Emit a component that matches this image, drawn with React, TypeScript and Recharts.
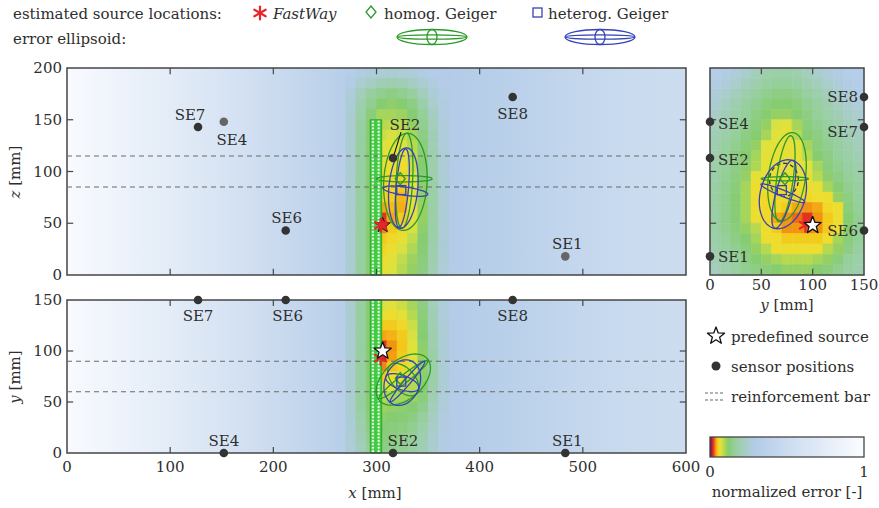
import React from "react";
import { ComposedChart, XAxis, YAxis, ReferenceArea, ReferenceLine, Scatter, Line } from "recharts";

const FONT = '"DejaVu Serif", "Liberation Serif", serif';
const INK = "#2e2e2e";
const GREEN = "#2a9a2a";
const BLUE = "#3543b8";
const RED = "#e8262a";
const FRAME = "#454545";

// sensor coordinates [mm]
const sensorNames = ["SE1", "SE2", "SE4", "SE6", "SE7", "SE8"];
const sensorX = [483, 316, 152, 212, 127, 432];
const sensorY = [0, 0, 0, 150, 150, 150];
const sensorZ = [18, 113, 148, 43, 143, 172];

// source locations [x, y, z] in mm
const predefinedSource = [306, 100, 48];
const fastWaySource = [304, 93, 48];
const homogGeigerSource = [323, 73, 93];
const heterogGeigerSource = [324, 70, 82];

// reinforcement bar
const rebarX = [294, 305];
const rebarLinesZ = [85, 115];
const rebarLinesY = [60, 90];

const xTicks = [0, 100, 200, 300, 400, 500, 600];
const zTicks = [0, 50, 100, 150, 200];
const yTicks = [0, 50, 100, 150];
const yzTicksH = [0, 50, 100, 150];

// normalized error along x, far from the bar
const bgX = [0, 50, 100, 150, 200, 250, 280, 300, 330, 380, 400, 450, 500, 550, 600];
const bgErr = [0.97, 0.86, 0.74, 0.62, 0.5, 0.38, 0.31, 0.28, 0.28, 0.3, 0.32, 0.38, 0.44, 0.49, 0.52];

// error map near the bar, 10 mm cells (left edges / lower edges)
const hotCols = [270, 280, 290, 300, 310, 320, 330, 340, 350, 360];
const xzRows = [190, 180, 170, 160, 150, 140, 130, 120, 110, 100, 90, 80, 70, 60, 50, 40, 30, 20, 10, 0];
const xzErr = [
  [0.31, 0.29, 0.27, 0.26, 0.25, 0.26, 0.27, 0.29, 0.3, 0.3],
  [0.29, 0.25, 0.22, 0.2, 0.19, 0.2, 0.22, 0.25, 0.28, 0.3],
  [0.27, 0.21, 0.17, 0.15, 0.14, 0.15, 0.17, 0.21, 0.26, 0.29],
  [0.26, 0.19, 0.15, 0.12, 0.115, 0.12, 0.14, 0.18, 0.24, 0.28],
  [0.25, 0.18, 0.13, 0.1, 0.1, 0.105, 0.12, 0.16, 0.22, 0.28],
  [0.25, 0.17, 0.12, 0.09, 0.088, 0.09, 0.11, 0.15, 0.21, 0.27],
  [0.25, 0.17, 0.12, 0.08, 0.075, 0.08, 0.1, 0.14, 0.2, 0.27],
  [0.25, 0.17, 0.12, 0.072, 0.068, 0.07, 0.09, 0.13, 0.2, 0.27],
  [0.25, 0.17, 0.12, 0.068, 0.064, 0.064, 0.085, 0.125, 0.19, 0.26],
  [0.25, 0.17, 0.12, 0.064, 0.06, 0.058, 0.08, 0.12, 0.19, 0.26],
  [0.25, 0.17, 0.12, 0.062, 0.057, 0.055, 0.075, 0.12, 0.19, 0.26],
  [0.25, 0.17, 0.12, 0.058, 0.055, 0.05, 0.07, 0.115, 0.18, 0.26],
  [0.25, 0.17, 0.12, 0.055, 0.051, 0.044, 0.068, 0.11, 0.18, 0.26],
  [0.25, 0.17, 0.12, 0.04, 0.045, 0.042, 0.065, 0.11, 0.18, 0.26],
  [0.25, 0.17, 0.12, 0.02, 0.04, 0.05, 0.068, 0.11, 0.18, 0.26],
  [0.25, 0.17, 0.12, 0.034, 0.05, 0.056, 0.075, 0.115, 0.18, 0.26],
  [0.25, 0.17, 0.12, 0.05, 0.056, 0.065, 0.085, 0.12, 0.18, 0.26],
  [0.25, 0.17, 0.12, 0.055, 0.062, 0.075, 0.095, 0.125, 0.19, 0.26],
  [0.25, 0.17, 0.12, 0.058, 0.068, 0.085, 0.105, 0.13, 0.19, 0.26],
  [0.25, 0.17, 0.12, 0.06, 0.072, 0.09, 0.11, 0.135, 0.2, 0.27],
];
const xyRows = [140, 130, 120, 110, 100, 90, 80, 70, 60, 50, 40, 30, 20, 10, 0];
const xyErr = [
  [0.25, 0.17, 0.12, 0.075, 0.07, 0.08, 0.1, 0.14, 0.21, 0.27],
  [0.25, 0.17, 0.12, 0.064, 0.06, 0.066, 0.09, 0.13, 0.2, 0.27],
  [0.25, 0.17, 0.12, 0.05, 0.05, 0.056, 0.08, 0.125, 0.2, 0.26],
  [0.25, 0.17, 0.12, 0.04, 0.043, 0.05, 0.075, 0.12, 0.19, 0.26],
  [0.25, 0.17, 0.12, 0.02, 0.036, 0.048, 0.07, 0.115, 0.19, 0.26],
  [0.25, 0.17, 0.12, 0.015, 0.038, 0.05, 0.07, 0.11, 0.18, 0.26],
  [0.25, 0.17, 0.12, 0.034, 0.048, 0.055, 0.075, 0.11, 0.18, 0.26],
  [0.25, 0.17, 0.12, 0.05, 0.058, 0.065, 0.08, 0.115, 0.18, 0.26],
  [0.25, 0.17, 0.12, 0.07, 0.075, 0.08, 0.09, 0.12, 0.19, 0.26],
  [0.25, 0.17, 0.12, 0.09, 0.095, 0.1, 0.105, 0.13, 0.2, 0.27],
  [0.25, 0.17, 0.12, 0.105, 0.11, 0.115, 0.12, 0.145, 0.21, 0.27],
  [0.25, 0.18, 0.13, 0.115, 0.12, 0.125, 0.135, 0.165, 0.22, 0.28],
  [0.26, 0.19, 0.14, 0.125, 0.13, 0.135, 0.15, 0.18, 0.23, 0.28],
  [0.26, 0.2, 0.15, 0.13, 0.135, 0.145, 0.16, 0.19, 0.24, 0.29],
  [0.27, 0.21, 0.16, 0.14, 0.145, 0.155, 0.17, 0.2, 0.25, 0.29],
];
const yzCols = [0, 10, 20, 30, 40, 50, 60, 70, 80, 90, 100, 110, 120, 130, 140];
const yzRows = [190, 180, 170, 160, 150, 140, 130, 120, 110, 100, 90, 80, 70, 60, 50, 40, 30, 20, 10, 0];
const yzErr = [
  [0.31, 0.29, 0.27, 0.24, 0.21, 0.19, 0.18, 0.18, 0.19, 0.21, 0.24, 0.27, 0.29, 0.31, 0.32],
  [0.29, 0.27, 0.24, 0.21, 0.19, 0.17, 0.16, 0.16, 0.17, 0.19, 0.21, 0.24, 0.27, 0.29, 0.31],
  [0.27, 0.24, 0.21, 0.19, 0.17, 0.15, 0.14, 0.14, 0.15, 0.17, 0.19, 0.21, 0.24, 0.27, 0.29],
  [0.25, 0.22, 0.19, 0.17, 0.15, 0.13, 0.12, 0.12, 0.13, 0.15, 0.17, 0.19, 0.22, 0.25, 0.27],
  [0.23, 0.2, 0.18, 0.16, 0.14, 0.12, 0.11, 0.11, 0.12, 0.14, 0.16, 0.18, 0.2, 0.23, 0.25],
  [0.21, 0.19, 0.17, 0.15, 0.13, 0.11, 0.075, 0.07, 0.1, 0.13, 0.15, 0.17, 0.19, 0.21, 0.23],
  [0.2, 0.18, 0.16, 0.14, 0.12, 0.1, 0.07, 0.066, 0.09, 0.12, 0.14, 0.16, 0.18, 0.2, 0.22],
  [0.19, 0.17, 0.15, 0.13, 0.11, 0.07, 0.066, 0.066, 0.07, 0.1, 0.13, 0.15, 0.17, 0.19, 0.21],
  [0.19, 0.16, 0.14, 0.12, 0.1, 0.066, 0.066, 0.066, 0.066, 0.09, 0.12, 0.14, 0.16, 0.18, 0.2],
  [0.18, 0.16, 0.14, 0.115, 0.095, 0.066, 0.066, 0.066, 0.066, 0.07, 0.1, 0.13, 0.15, 0.17, 0.19],
  [0.18, 0.155, 0.135, 0.11, 0.066, 0.066, 0.066, 0.066, 0.066, 0.066, 0.09, 0.115, 0.14, 0.16, 0.18],
  [0.175, 0.15, 0.13, 0.1, 0.06, 0.06, 0.06, 0.06, 0.06, 0.06, 0.066, 0.1, 0.125, 0.15, 0.17],
  [0.175, 0.15, 0.125, 0.1, 0.06, 0.056, 0.056, 0.056, 0.056, 0.056, 0.06, 0.06, 0.11, 0.14, 0.165],
  [0.175, 0.15, 0.125, 0.1, 0.06, 0.056, 0.056, 0.05, 0.04, 0.036, 0.04, 0.056, 0.06, 0.13, 0.16],
  [0.175, 0.15, 0.125, 0.1, 0.06, 0.056, 0.04, 0.036, 0.03, 0.02, 0.036, 0.05, 0.06, 0.12, 0.155],
  [0.175, 0.15, 0.13, 0.11, 0.09, 0.06, 0.05, 0.036, 0.036, 0.034, 0.036, 0.05, 0.06, 0.12, 0.155],
  [0.18, 0.16, 0.14, 0.12, 0.1, 0.06, 0.058, 0.05, 0.05, 0.05, 0.05, 0.058, 0.1, 0.13, 0.16],
  [0.19, 0.17, 0.15, 0.13, 0.11, 0.09, 0.06, 0.06, 0.06, 0.06, 0.06, 0.09, 0.11, 0.14, 0.17],
  [0.2, 0.18, 0.16, 0.14, 0.12, 0.11, 0.1, 0.09, 0.09, 0.09, 0.1, 0.11, 0.13, 0.16, 0.18],
  [0.21, 0.19, 0.17, 0.15, 0.14, 0.13, 0.12, 0.11, 0.11, 0.11, 0.12, 0.13, 0.15, 0.17, 0.19],
];

// error ellipsoid projections: [centre h, centre v, semi-axis a, semi-axis b, rotation deg]
const xzGreen = [[328, 90, 21, 47, -3], [327, 91, 8, 46, -3], [327, 93, 27, 3, 0]];
const xzBlue = [[326, 84, 14, 39, -5], [325, 84, 6, 38, -5], [328, 81, 22, 4, -8]];
const xyGreen = [[326, 72, 31, 19, 42], [326, 72, 30, 4, 38], [326, 72, 11, 19, 42]];
const xyBlue = [[325, 69, 23, 17, 70], [330, 70, 26, 3, 50], [325, 69, 7, 17, 70]];
const yzGreen = [[75, 95, 18, 43, -8], [73, 93, 8, 42, -8], [73, 93, 23, 2, 0]];
const yzBlue = [[71, 78, 22, 34, -15], [72, 78, 8, 34, -15], [71, 79, 23, 3, -22]];
const yzDashed = [[72, 92, 14, 16, 0]];

// colormap of the normalized error
const cmapV = [0, 0.012, 0.025, 0.037, 0.047, 0.058, 0.072, 0.092, 0.12, 0.165, 0.23, 0.3, 0.6, 1];
const cmapC = ["#3b0f8f", "#cc1430", "#ea4a1a", "#f39a10", "#f4c418", "#f0dc2c", "#dde23e", "#b2d852", "#86cc70", "#97cf9e", "#a8cdc8", "#b4cce8", "#d6e3f3", "#fbfcff"];

function hex(c: string) {
  return [1, 3, 5].map((i) => parseInt(c.slice(i, i + 2), 16));
}
function errColor(v: number) {
  let k = 0;
  while (k < cmapV.length - 2 && v > cmapV[k + 1]) k++;
  const t = Math.max(0, Math.min(1, (v - cmapV[k]) / (cmapV[k + 1] - cmapV[k])));
  const a = hex(cmapC[k]);
  const b = hex(cmapC[k + 1]);
  const m = a.map((x, i) => Math.round(x + (b[i] - x) * t));
  return `rgb(${m[0]},${m[1]},${m[2]})`;
}

function heatCells(id: string, cols: number[], rows: number[], vals: number[][], size: number) {
  const out: React.ReactElement[] = [];
  rows.forEach((r, i) =>
    cols.forEach((c, j) => {
      const fill = errColor(vals[i][j]);
      out.push(
        <ReferenceArea key={`${id}-${i}-${j}`} x1={c} x2={c + size} y1={r} y2={r + size}
          fill={fill} fillOpacity={1} stroke={fill} strokeWidth={0.6} ifOverflow="visible" />
      );
    })
  );
  return out;
}

function ellipsePts(e: number[]) {
  const [cx, cy, a, b, deg] = e;
  const t = (deg * Math.PI) / 180;
  const pts = [];
  for (let k = 0; k <= 72; k++) {
    const p = (k / 72) * 2 * Math.PI;
    const ex = a * Math.cos(p);
    const ey = b * Math.sin(p);
    pts.push({ h: cx + ex * Math.cos(t) - ey * Math.sin(t), v: cy + ex * Math.sin(t) + ey * Math.cos(t) });
  }
  return pts;
}

function ellipseLines(id: string, list: number[][], color: string, dash?: string) {
  return list.map((e, i) => (
    <Line key={`${id}-${i}`} data={ellipsePts(e)} dataKey="v" type="linear" stroke={color}
      strokeWidth={1.3} strokeDasharray={dash} dot={false} activeDot={false} isAnimationActive={false} />
  ));
}

function innerTicks(id: string, hT: number[], vT: number[], hDom: number[], vDom: number[]) {
  const L = 6;
  const out: React.ReactElement[] = [];
  hT.forEach((t) => {
    out.push(<ReferenceLine key={`${id}b${t}`} segment={[{ x: t, y: vDom[0] }, { x: t, y: vDom[0] + L }]} stroke={FRAME} strokeWidth={1.2} />);
    out.push(<ReferenceLine key={`${id}t${t}`} segment={[{ x: t, y: vDom[1] }, { x: t, y: vDom[1] - L }]} stroke={FRAME} strokeWidth={1.2} />);
  });
  vT.forEach((t) => {
    out.push(<ReferenceLine key={`${id}l${t}`} segment={[{ x: hDom[0], y: t }, { x: hDom[0] + L, y: t }]} stroke={FRAME} strokeWidth={1.2} />);
    out.push(<ReferenceLine key={`${id}r${t}`} segment={[{ x: hDom[1], y: t }, { x: hDom[1] - L, y: t }]} stroke={FRAME} strokeWidth={1.2} />);
  });
  return out;
}

function starPoints(cx: number, cy: number, R: number, r: number) {
  const p: string[] = [];
  for (let k = 0; k < 10; k++) {
    const ang = -Math.PI / 2 + (k * Math.PI) / 5;
    const rad = k % 2 === 0 ? R : r;
    p.push(`${cx + rad * Math.cos(ang)},${cy + rad * Math.sin(ang)}`);
  }
  return p.join(" ");
}

function Asterisk({ cx, cy, s = 6.5 }: { cx: number; cy: number; s?: number }) {
  return (
    <g stroke={RED} strokeWidth={2.2} strokeLinecap="round">
      {[90, 30, 150].map((a) => {
        const t = (a * Math.PI) / 180;
        return <line key={a} x1={cx - s * Math.cos(t)} y1={cy - s * Math.sin(t)} x2={cx + s * Math.cos(t)} y2={cy + s * Math.sin(t)} />;
      })}
    </g>
  );
}

const starShape = (p: any) => (
  <polygon points={starPoints(p.cx, p.cy, 9, 3.8)} fill="#fff" stroke="#111" strokeWidth={1.3} strokeLinejoin="round" />
);
const hiddenStarShape = (p: any) => (
  <polygon points={starPoints(p.cx, p.cy, 8, 3.4)} fill={RED} stroke="#222" strokeWidth={1} strokeLinejoin="round" />
);
const asteriskShape = (p: any) => <Asterisk cx={p.cx} cy={p.cy} />;
const diamondShape = (p: any) => (
  <polygon points={`${p.cx},${p.cy - 6} ${p.cx + 5},${p.cy} ${p.cx},${p.cy + 6} ${p.cx - 5},${p.cy}`} fill="none" stroke={GREEN} strokeWidth={1.3} />
);
const squareShape = (p: any) => (
  <rect x={p.cx - 4.5} y={p.cy - 4.5} width={9} height={9} fill="none" stroke={BLUE} strokeWidth={1.3} />
);

type Place = Record<string, [number, number, "start" | "middle" | "end"]>;
const xzPlace: Place = { SE1: [2, -12, "middle"], SE2: [12, -33, "middle"], SE4: [8, 18, "middle"], SE6: [1, -12, "middle"], SE7: [-8, -12, "middle"], SE8: [0, 17, "middle"] };
const xyPlace: Place = { SE1: [2, -12, "middle"], SE2: [10, -12, "middle"], SE4: [0, -12, "middle"], SE6: [2, 16, "middle"], SE7: [0, 16, "middle"], SE8: [0, 16, "middle"] };
const yzPlace: Place = { SE1: [8, 1, "start"], SE2: [8, 2, "start"], SE4: [8, 2, "start"], SE6: [-6, 1, "end"], SE7: [-6, 5, "end"], SE8: [-6, 0, "end"] };
const faintXZ = ["SE1", "SE4"];

const sensorShape = (place: Place, faint: string[], leader?: string) => (p: any) => {
  const name = p.payload.name as string;
  const [dx, dy, anchor] = place[name];
  return (
    <g>
      {leader === name && <line x1={p.cx + 8} y1={p.cy - 26} x2={p.cx} y2={p.cy} stroke="#111" strokeWidth={1.1} />}
      <circle cx={p.cx} cy={p.cy} r={4.3} fill={faint.includes(name) ? "#666" : "#333"} />
      <text x={p.cx + dx} y={p.cy + dy + 5} textAnchor={anchor} fontFamily={FONT} fontSize={15} fill={INK}>{name}</text>
    </g>
  );
};

const xzSensors = sensorNames.map((n, i) => ({ name: n, h: sensorX[i], v: sensorZ[i] }));
const xySensors = sensorNames.map((n, i) => ({ name: n, h: sensorX[i], v: sensorY[i] }));
const yzSensors = sensorNames.map((n, i) => ({ name: n, h: sensorY[i], v: sensorZ[i] }));

const proj = (s: number[], a: number, b: number) => [{ h: s[a], v: s[b] }];

const xTickLabel = (dy: number) => (p: any) => (
  <text x={p.x} y={p.y + dy} textAnchor="middle" fontFamily={FONT} fontSize={15} fill={INK}>{p.payload.value}</text>
);
const yTickLabel = (p: any) => (
  <text x={p.x - 5} y={p.y + 5} textAnchor="end" fontFamily={FONT} fontSize={15} fill={INK}>{p.payload.value}</text>
);

function BgGradient({ id }: { id: string }) {
  return (
    <linearGradient id={id} x1="0" y1="0" x2="1" y2="0">
      {bgX.map((x, i) => (
        <stop key={x} offset={x / 600} stopColor={errColor(bgErr[i])} />
      ))}
    </linearGradient>
  );
}

function RebarPattern({ id }: { id: string }) {
  return (
    <pattern id={id} patternUnits="objectBoundingBox" width={0.5} height={0.0222} patternContentUnits="userSpaceOnUse">
      <rect x={0} y={0} width={10} height={10} fill="#3fcb3f" />
      <rect x={1.6} y={0.7} width={2} height={2} fill="#fff" />
    </pattern>
  );
}

function dashedLines(id: string, vals: number[]) {
  return vals.map((v) => (
    <ReferenceLine key={`${id}${v}`} y={v} stroke="#6a6a6a" strokeWidth={1.1} strokeDasharray="5 4" />
  ));
}

export default function App() {
  return (
    <div style={{ position: "absolute", left: 0, top: 0, width: 879, height: 508, background: "#fff", fontFamily: FONT }}>
      {/* x-z view */}
      <div style={{ position: "absolute", left: 0, top: 0 }}>
        <ComposedChart width={700} height={290} margin={{ top: 68, right: 14, bottom: 15, left: 22 }}>
          <defs>
            <BgGradient id="bgXZ" />
            <RebarPattern id="rebarXZ" />
          </defs>
          <XAxis type="number" dataKey="h" domain={[0, 600]} ticks={xTicks} hide />
          <YAxis type="number" dataKey="v" domain={[0, 200]} ticks={zTicks} width={45} interval={0}
            axisLine={false} tickLine={false} tickSize={0} tickMargin={0} tick={yTickLabel} />
          <ReferenceArea x1={0} x2={600} y1={0} y2={200} fill="url(#bgXZ)" fillOpacity={1} ifOverflow="visible" />
          {heatCells("xz", hotCols, xzRows, xzErr, 10)}
          {dashedLines("xzd", rebarLinesZ)}
          <ReferenceArea x1={rebarX[0]} x2={rebarX[1]} y1={0} y2={150} fill="url(#rebarXZ)" fillOpacity={1} stroke="#2fa82f" strokeWidth={1} ifOverflow="visible" />
          {innerTicks("xzt", [100, 200, 300, 400, 500], [50, 100, 150], [0, 600], [0, 200])}
          <ReferenceArea x1={0} x2={600} y1={0} y2={200} fill="none" stroke={FRAME} strokeWidth={1.5} ifOverflow="visible" />
          {ellipseLines("xzg", xzGreen, GREEN)}
          {ellipseLines("xzb", xzBlue, BLUE)}
          <Scatter data={proj(predefinedSource, 0, 2)} shape={hiddenStarShape} isAnimationActive={false} />
          <Scatter data={proj(fastWaySource, 0, 2)} shape={asteriskShape} isAnimationActive={false} />
          <Scatter data={proj(homogGeigerSource, 0, 2)} shape={diamondShape} isAnimationActive={false} />
          <Scatter data={proj(heterogGeigerSource, 0, 2)} shape={squareShape} isAnimationActive={false} />
          <Scatter data={xzSensors} shape={sensorShape(xzPlace, faintXZ, "SE2")} isAnimationActive={false} />
        </ComposedChart>
      </div>

      {/* x-y view */}
      <div style={{ position: "absolute", left: 0, top: 290 }}>
        <ComposedChart width={700} height={218} margin={{ top: 10, right: 14, bottom: 25, left: 22 }}>
          <defs>
            <BgGradient id="bgXY" />
            <RebarPattern id="rebarXY" />
          </defs>
          <XAxis type="number" dataKey="h" domain={[0, 600]} ticks={xTicks} height={30} interval={0}
            axisLine={false} tickLine={false} tickSize={0} tickMargin={0} tick={xTickLabel(19)} />
          <YAxis type="number" dataKey="v" domain={[0, 150]} ticks={yTicks} width={45} interval={0}
            axisLine={false} tickLine={false} tickSize={0} tickMargin={0} tick={yTickLabel} />
          <ReferenceArea x1={0} x2={600} y1={0} y2={150} fill="url(#bgXY)" fillOpacity={1} ifOverflow="visible" />
          {heatCells("xy", hotCols, xyRows, xyErr, 10)}
          {dashedLines("xyd", rebarLinesY)}
          <ReferenceArea x1={rebarX[0]} x2={rebarX[1]} y1={0} y2={150} fill="url(#rebarXY)" fillOpacity={1} stroke="#2fa82f" strokeWidth={1} ifOverflow="visible" />
          {innerTicks("xyt", [100, 200, 400, 500], [50, 100], [0, 600], [0, 150])}
          <ReferenceArea x1={0} x2={600} y1={0} y2={150} fill="none" stroke={FRAME} strokeWidth={1.5} ifOverflow="visible" />
          {ellipseLines("xyg", xyGreen, GREEN)}
          {ellipseLines("xyb", xyBlue, BLUE)}
          <Scatter data={proj(fastWaySource, 0, 1)} shape={asteriskShape} isAnimationActive={false} />
          <Scatter data={proj(predefinedSource, 0, 1)} shape={starShape} isAnimationActive={false} />
          <Scatter data={proj(homogGeigerSource, 0, 1)} shape={diamondShape} isAnimationActive={false} />
          <Scatter data={proj(heterogGeigerSource, 0, 1)} shape={squareShape} isAnimationActive={false} />
          <Scatter data={xySensors} shape={sensorShape(xyPlace, [])} isAnimationActive={false} />
        </ComposedChart>
      </div>

      {/* y-z view */}
      <div style={{ position: "absolute", left: 690, top: 0 }}>
        <ComposedChart width={189} height={300} margin={{ top: 68, right: 15, bottom: 0, left: 20 }}>
          <XAxis type="number" dataKey="h" domain={[0, 150]} ticks={yzTicksH} height={25} interval={0}
            axisLine={false} tickLine={false} tickSize={0} tickMargin={0} tick={xTickLabel(15)} />
          <YAxis type="number" dataKey="v" domain={[0, 200]} ticks={zTicks} hide />
          {heatCells("yz", yzCols, yzRows, yzErr, 10)}
          {innerTicks("yzt", [50, 100], [50, 100, 150], [0, 150], [0, 200])}
          <ReferenceArea x1={0} x2={150} y1={0} y2={200} fill="none" stroke={FRAME} strokeWidth={1.5} ifOverflow="visible" />
          {ellipseLines("yzk", yzDashed, "#333", "4 3")}
          {ellipseLines("yzg", yzGreen, GREEN)}
          {ellipseLines("yzb", yzBlue, BLUE)}
          <Scatter data={proj(fastWaySource, 1, 2)} shape={asteriskShape} isAnimationActive={false} />
          <Scatter data={proj(predefinedSource, 1, 2)} shape={starShape} isAnimationActive={false} />
          <Scatter data={proj(homogGeigerSource, 1, 2)} shape={diamondShape} isAnimationActive={false} />
          <Scatter data={proj(heterogGeigerSource, 1, 2)} shape={squareShape} isAnimationActive={false} />
          <Scatter data={yzSensors} shape={sensorShape(yzPlace, [])} isAnimationActive={false} />
        </ComposedChart>
      </div>

      {/* legends and axis titles */}
      <svg width={879} height={508} style={{ position: "absolute", left: 0, top: 0, pointerEvents: "none" }}
        fontFamily={FONT} fontSize={15} fill={INK}>
        <defs>
          <linearGradient id="cbar" x1="0" y1="0" x2="1" y2="0">
            {cmapV.map((v, i) => (
              <stop key={v} offset={v} stopColor={cmapC[i]} />
            ))}
          </linearGradient>
        </defs>
        <text x={13} y={19}>estimated source locations:</text>
        <Asterisk cx={260} cy={13} />
        <text x={273} y={19} fontStyle="italic">FastWay</text>
        <polygon points="371,6 376,12 371,18 366,12" fill="none" stroke={GREEN} strokeWidth={1.3} />
        <text x={384} y={19}>homog. Geiger</text>
        <rect x={533} y={8} width={9} height={9} fill="none" stroke={BLUE} strokeWidth={1.3} />
        <text x={548} y={19}>heterog. Geiger</text>
        <text x={13} y={44}>error ellipsoid:</text>
        {[
          [432, GREEN],
          [600, BLUE],
        ].map(([cx, col]) => (
          <g key={col as string} fill="none" stroke={col as string} strokeWidth={1.3}>
            <ellipse cx={cx as number} cy={37} rx={35} ry={7.5} />
            <ellipse cx={cx as number} cy={37} rx={34} ry={2.2} />
            <ellipse cx={cx as number} cy={37} rx={5} ry={7.5} />
          </g>
        ))}

        <text x={20} y={172} textAnchor="middle" transform="rotate(-90 20 172)">
          <tspan fontStyle="italic">z</tspan> [mm]
        </text>
        <text x={20} y={377} textAnchor="middle" transform="rotate(-90 20 377)">
          <tspan fontStyle="italic">y</tspan> [mm]
        </text>
        <text x={375} y={498} textAnchor="middle">
          <tspan fontStyle="italic">x</tspan> [mm]
        </text>
        <text x={787} y={310} textAnchor="middle">
          <tspan fontStyle="italic">y</tspan> [mm]
        </text>

        <polygon points={starPoints(716, 336, 9, 3.8)} fill="#fff" stroke="#111" strokeWidth={1.3} strokeLinejoin="round" />
        <text x={731} y={342}>predefined source</text>
        <circle cx={716} cy={366} r={4.5} fill="#333" />
        <text x={731} y={372}>sensor positions</text>
        <line x1={705} x2={725} y1={393} y2={393} stroke="#6a6a6a" strokeWidth={1.1} strokeDasharray="3 2" />
        <line x1={705} x2={725} y1={400} y2={400} stroke="#6a6a6a" strokeWidth={1.1} strokeDasharray="3 2" />
        <text x={731} y={402}>reinforcement bar</text>
        <rect x={710} y={437} width={154} height={20} fill="url(#cbar)" stroke={FRAME} strokeWidth={1.3} />
        <text x={710} y={477} textAnchor="middle">0</text>
        <text x={864} y={477} textAnchor="middle">1</text>
        <text x={787} y={497} textAnchor="middle">normalized error [-]</text>
      </svg>
    </div>
  );
}
